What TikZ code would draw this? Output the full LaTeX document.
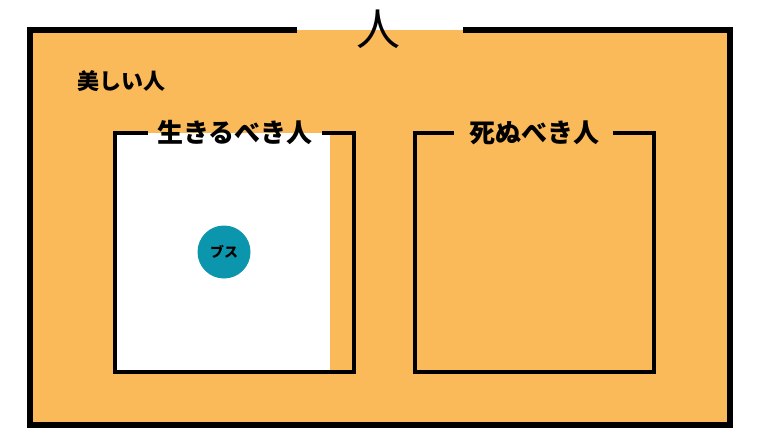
\documentclass[tikz,border=0pt]{standalone}
\usepackage{fontspec}
\newfontfamily\cjk{Noto Sans CJK JP}
\definecolor{orangefill}{HTML}{FBBA5A}
\definecolor{tealfill}{HTML}{0C96AE}
\begin{document}
\begin{tikzpicture}[x=1pt,y=-1pt,
  frame/.style={line width=5.5pt,line join=miter},
  boxline/.style={line width=4pt,line join=miter},
  bigtitle/.style={font=\cjk\fontsize{44}{48}\selectfont,inner sep=0pt},
  boxtitle/.style={font=\cjk\bfseries\fontsize{26}{30}\selectfont,inner sep=0pt},
  label/.style={font=\cjk\bfseries\fontsize{22}{25}\selectfont,inner sep=0pt},
  circlab/.style={font=\cjk\bfseries\fontsize{14}{16}\selectfont,inner sep=0pt}]
\useasboundingbox (0,0) rectangle (760,428);
% outer region
\fill[orangefill] (30,30) rectangle (730,425);
\coordinate (og1) at (297,30);
\coordinate (og2) at (463,30);
\draw[frame] (og1) -- (30,30) -- (30,425) -- (730,425) -- (730,30) -- (og2);
\node[bigtitle] (ttl) at (378,29) {人};
\node[label] (beauty) at (121,81) {美しい人};
% left box
\fill[white] (115,133) rectangle (330,372);
\coordinate (lg1) at (148,133);
\coordinate (lg2) at (322,133);
\draw[boxline] (lg1) -- (115,133) -- (115,372) -- (354,372) -- (354,133) -- (lg2);
\node[boxtitle] (live) at (235,133) {生きるべき人};
% right box
\coordinate (rg1) at (454,133);
\coordinate (rg2) at (613,133);
\draw[boxline] (rg1) -- (415,133) -- (415,372) -- (654,372) -- (654,133) -- (rg2);
\node[boxtitle] (die) at (534,133) {死ぬべき人};
% circle
\node[circle,fill=tealfill,minimum size=53pt,inner sep=0pt] (busu) at (224,252) {};
\node[circlab] (busutxt) at (busu.center) {ブス};
\end{tikzpicture}
\end{document}
